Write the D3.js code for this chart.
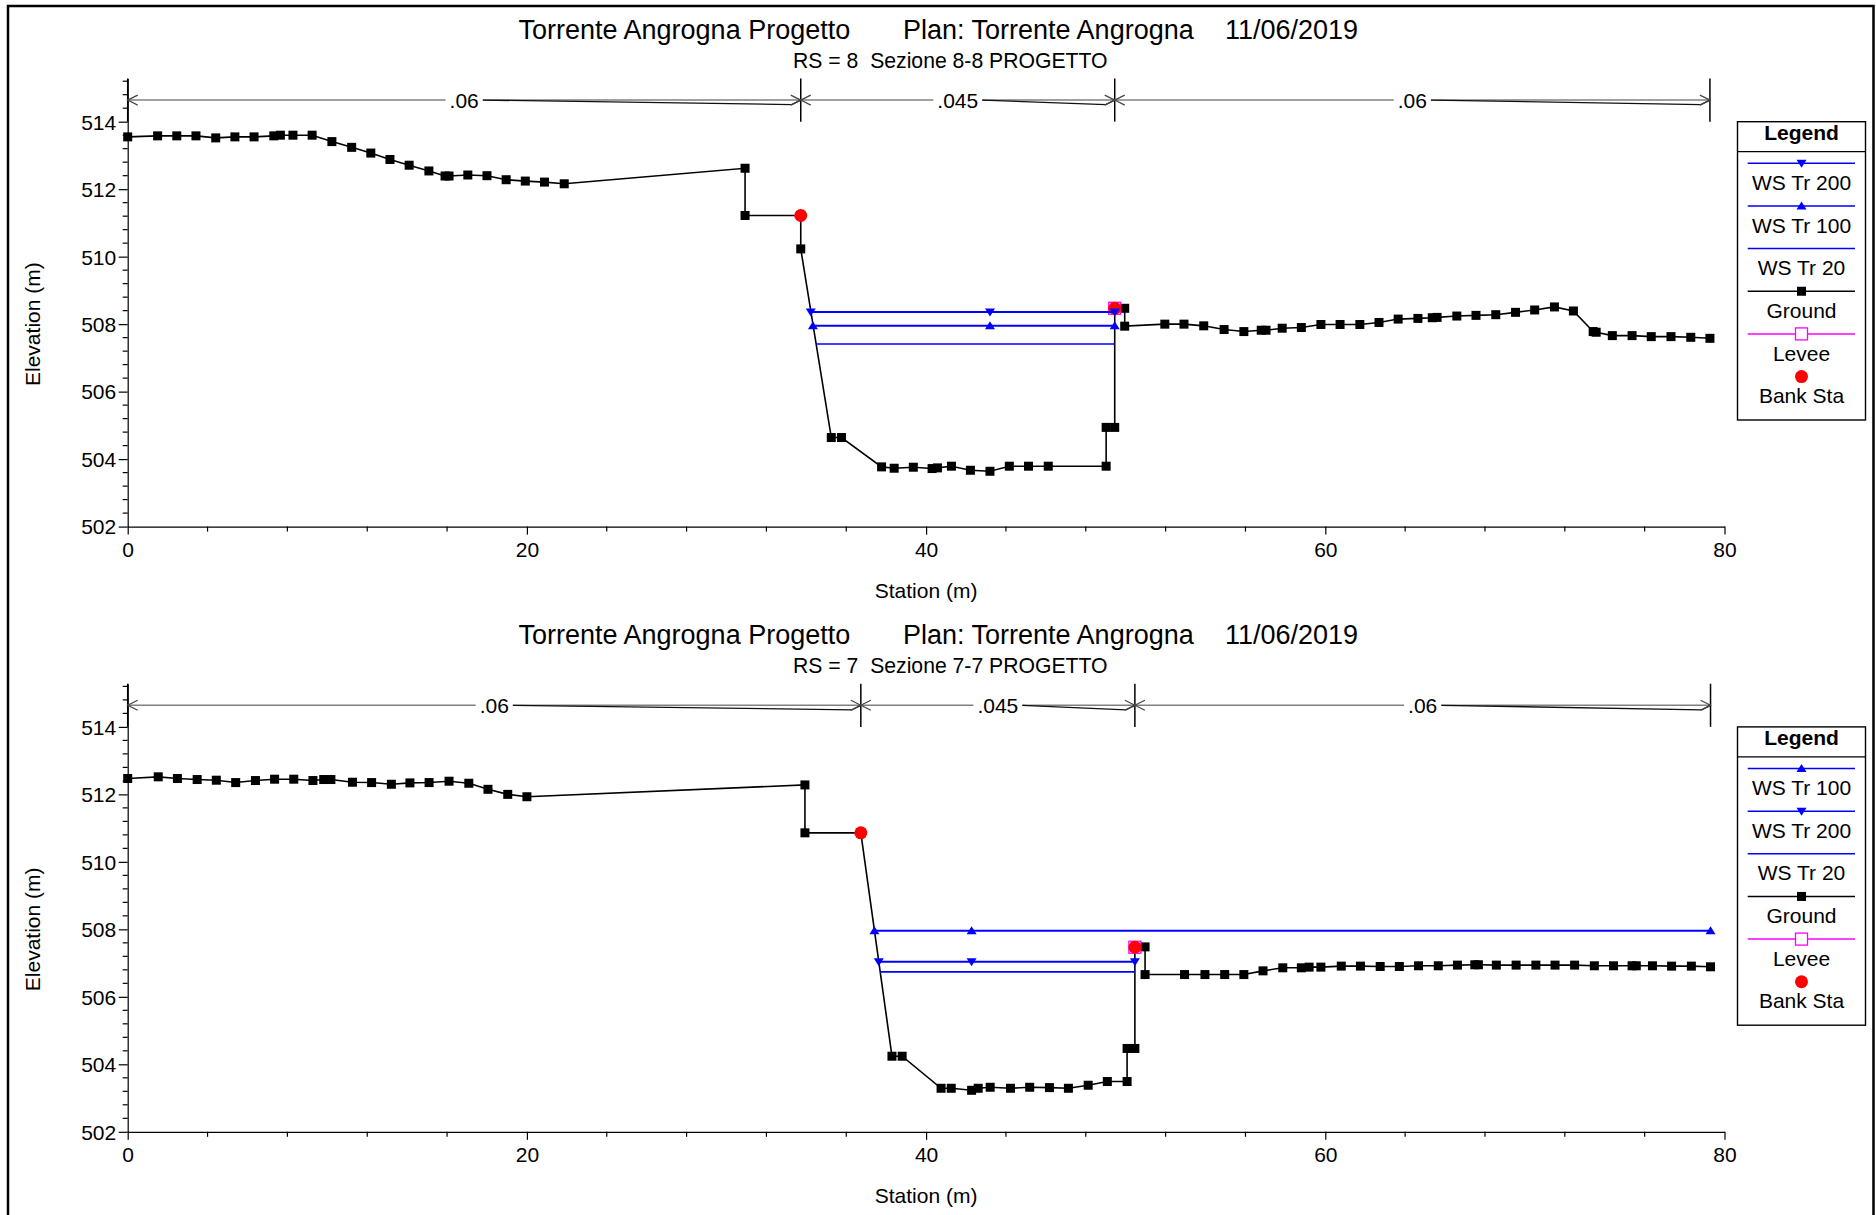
<!DOCTYPE html>
<html><head><meta charset="utf-8">
<script src="https://cdn.jsdelivr.net/npm/d3@7"></script>
<style>
body{margin:0;background:#fff;}
svg{display:block;}
text{font-family:"Liberation Sans", Arial, Helvetica, sans-serif;}
</style>
</head><body>
<svg id="chart" width="1876" height="1215"></svg>
<script>
// ---------------- DATA ----------------
const titleParts = ["Torrente Angrogna Progetto", "Plan: Torrente Angrogna", "11/06/2019"];
const subtitleA = "RS = 8  Sezione 8-8 PROGETTO";
const subtitleB = "RS = 7  Sezione 7-7 PROGETTO";
const xTicks = [0, 20, 40, 60, 80];
const yTicks = [502, 504, 506, 508, 510, 512, 514];
const xTitle = "Station (m)";
const yTitle = "Elevation (m)";

// Section RS = 8 (top)
const groundStA = [0,1.5,2.46,3.42,4.41,5.37,6.33,7.32,7.65,8.28,9.24,10.23,11.22,12.18,13.14,14.1,15.09,15.9,16.1,17.04,18.0,18.96,19.92,20.88,21.87,30.93,30.93,33.72,33.72,35.25,35.76,37.77,38.4,39.36,40.3,40.57,41.27,42.22,43.2,44.17,45.13,46.12,49.02,49.02,49.45,49.45,49.95,49.95,51.96,52.92,53.91,54.93,55.92,56.79,57.03,57.84,58.8,59.78,60.74,61.73,62.69,63.65,64.64,65.36,65.6,66.59,67.55,68.54,69.53,70.49,71.48,72.43,73.42,73.57,74.38,75.37,76.33,77.32,78.31,79.27];
const groundElA = [513.55,513.58,513.58,513.58,513.52,513.55,513.55,513.58,513.6,513.6,513.6,513.41,513.24,513.07,512.88,512.71,512.54,512.39,512.39,512.42,512.4,512.28,512.24,512.21,512.16,512.62,511.22,511.22,510.23,504.64,504.64,503.77,503.73,503.76,503.72,503.74,503.79,503.67,503.64,503.79,503.79,503.79,503.79,504.94,504.94,508.47,508.47,507.94,508.0,508.0,507.95,507.84,507.78,507.82,507.82,507.88,507.9,507.99,507.99,507.99,508.05,508.15,508.17,508.19,508.2,508.24,508.26,508.28,508.35,508.42,508.51,508.39,507.78,507.76,507.66,507.66,507.63,507.63,507.61,507.58];
const ws200StA = [34.22, 43.2, 49.45]; const ws200ElA = 508.36;
const ws100StA = [34.33, 43.2, 49.45]; const ws100ElA = 507.95;
const ws20StA  = [34.48, 49.45];       const ws20ElA  = 507.41;
const leveeA = [[49.45, 508.47]];
const bankA  = [[33.72, 511.22], [49.45, 508.47]];
const nStA   = [0, 33.72, 49.45, 79.27];
const nValA  = [".06", ".045", ".06"];
const legendA = ["WS Tr 200", "WS Tr 100", "WS Tr 20", "Ground", "Levee", "Bank Sta"];

// Section RS = 7 (bottom)
const groundStB = [0,1.53,2.49,3.48,4.44,5.41,6.4,7.36,8.32,9.28,9.82,10.18,11.26,12.22,13.21,14.14,15.1,16.1,17.09,18.05,19.04,20.0,33.93,33.93,36.73,38.29,38.8,40.75,41.26,42.28,42.61,43.21,44.23,45.19,46.18,47.13,48.12,49.08,50.07,50.07,50.46,50.46,50.97,50.97,52.95,53.97,54.96,55.92,56.88,57.87,58.8,59.19,59.78,60.8,61.76,62.75,63.71,64.67,65.66,66.62,67.49,67.67,68.57,69.56,70.55,71.51,72.49,73.48,74.44,75.37,75.58,76.39,77.35,78.34,79.3];
const groundElB = [512.47,512.52,512.47,512.44,512.42,512.35,512.41,512.45,512.45,512.41,512.44,512.44,512.36,512.35,512.3,512.34,512.35,512.39,512.33,512.15,512.0,511.93,512.28,510.86,510.86,504.24,504.24,503.29,503.29,503.23,503.29,503.32,503.29,503.32,503.31,503.29,503.38,503.49,503.49,504.47,504.47,507.47,507.48,506.66,506.66,506.66,506.66,506.66,506.77,506.86,506.86,506.88,506.88,506.91,506.91,506.9,506.9,506.92,506.92,506.94,506.95,506.95,506.94,506.94,506.94,506.94,506.94,506.92,506.92,506.92,506.92,506.92,506.91,506.91,506.89];
const ws100StB = [37.41, 42.28, 79.3]; const ws100ElB = 507.96;
const ws200StB = [37.63, 42.28, 50.46]; const ws200ElB = 507.04;
const ws20StB  = [37.7, 50.46];        const ws20ElB  = 506.74;
const leveeB = [[50.46, 507.47]];
const bankB  = [[36.73, 510.86], [50.46, 507.47]];
const nStB   = [0, 36.73, 50.46, 79.3];
const nValB  = [".06", ".045", ".06"];
const legendB = ["WS Tr 100", "WS Tr 200", "WS Tr 20", "Ground", "Levee", "Bank Sta"];

// ---------------- DRAW ----------------
const svg = d3.select("#chart");
const BLUE = "#0000ff", MAG = "#ff00ff", RED = "#ff0000";

// outer frame
svg.append("rect").attr("x", 8).attr("y", 6).attr("width", 1865.5).attr("height", 1400)
  .attr("fill", "none").attr("stroke", "#000").attr("stroke-width", 2.5);

const sectionA = {
  subtitle: subtitleA,
  ground: groundStA.map((s, i) => [s, groundElA[i]]),
  ws: {
    "WS Tr 200": {pts: ws200StA.map(s => [s, ws200ElA]), marker: "down", w: 2},
    "WS Tr 100": {pts: ws100StA.map(s => [s, ws100ElA]), marker: "up", w: 2},
    "WS Tr 20":  {pts: ws20StA.map(s => [s, ws20ElA]), marker: null, w: 1.6}
  },
  levee: leveeA, bank: bankA, nSt: nStA, nVal: nValA, legend: legendA
};
const sectionB = {
  subtitle: subtitleB,
  ground: groundStB.map((s, i) => [s, groundElB[i]]),
  ws: {
    "WS Tr 100": {pts: ws100StB.map(s => [s, ws100ElB]), marker: "up", w: 2},
    "WS Tr 200": {pts: ws200StB.map(s => [s, ws200ElB]), marker: "down", w: 2},
    "WS Tr 20":  {pts: ws20StB.map(s => [s, ws20ElB]), marker: null, w: 1.6}
  },
  levee: leveeB, bank: bankB, nSt: nStB, nVal: nValB, legend: legendB
};

function triPath(type, cx, cy) {
  if (type === "down") return `M${cx-5},${cy-3.5}L${cx+5},${cy-3.5}L${cx},${cy+4.5}Z`;
  return `M${cx-5},${cy+3.5}L${cx+5},${cy+3.5}L${cx},${cy-4.5}Z`;
}

function drawSection(sec, dy) {
  const g = svg.append("g").attr("transform", `translate(0,${dy})`);
  const x = d3.scaleLinear().domain([0, 80]).range([127.7, 1724.5]);
  const y = d3.scaleLinear().domain([502, 515.28]).range([526.6, 78.5]);

  // titles
  const t = g.append("text").attr("y", 39).attr("font-size", 27).attr("fill", "#000");
  const tx = [518.5, 903, 1225];
  titleParts.forEach((p, i) => t.append("tspan").attr("x", tx[i]).text(p));
  g.append("text").attr("x", 793).attr("y", 68).attr("font-size", 21.2).attr("fill", "#000")
    .attr("xml:space", "preserve").style("white-space", "pre").text(sec.subtitle);

  // axes
  const yAxis = d3.axisLeft(y).tickValues(yTicks).tickSize(9).tickPadding(2.5).tickSizeOuter(0).tickFormat(d3.format("d"));
  const gy = g.append("g").attr("transform", `translate(${x(0)},0)`).call(yAxis);
  const minorY = d3.range(0, 34).filter(i => i % 5 !== 0).map(i => 502 + i * 0.4);
  gy.selectAll(".minor").data(minorY).enter().append("line").attr("class", "minor")
    .attr("x1", -5).attr("x2", 0).attr("y1", d => y(d)).attr("y2", d => y(d));
  const xAxis = d3.axisBottom(x).tickValues(xTicks).tickSize(8).tickPadding(7).tickSizeOuter(0);
  const gx = g.append("g").attr("transform", `translate(0,${y(502)})`).call(xAxis);
  const minorX = d3.range(0, 81, 4).filter(v => v % 20 !== 0);
  gx.selectAll(".minor").data(minorX).enter().append("line").attr("class", "minor")
    .attr("x1", d => x(d)).attr("x2", d => x(d)).attr("y1", 0).attr("y2", 5);
  [gx, gy].forEach(a => {
    a.attr("font-family", null).attr("font-size", null);
    a.selectAll("path, line").attr("stroke", "#000").attr("stroke-width", 1.2);
    a.selectAll("text").attr("font-size", 21).attr("fill", "#000");
  });
  gy.selectAll(".tick text").attr("dy", "0.35em");

  g.append("text").attr("x", (x(0) + x(80)) / 2).attr("y", 598).attr("text-anchor", "middle")
    .attr("font-size", 21).text(xTitle);
  g.append("text").attr("transform", `translate(40,${(y(502) + y(514)) / 2}) rotate(-90)`)
    .attr("text-anchor", "middle").attr("font-size", 21).text(yTitle);

  // Manning's n bands
  const ym = y(514.64);
  sec.nSt.forEach(s => {
    g.append("line").attr("x1", x(s)).attr("x2", x(s)).attr("y1", y(515.28)).attr("y2", y(514.0))
      .attr("stroke", "#000").attr("stroke-width", 1.5);
  });
  sec.nVal.forEach((lab, i) => {
    const x0 = x(sec.nSt[i]), x1 = x(sec.nSt[i + 1]), xc = (x0 + x1) / 2;
    const tt = g.append("text").attr("x", xc).attr("y", ym + 8).attr("text-anchor", "middle")
      .attr("font-size", 21).text(lab);
    const w = tt.node().getComputedTextLength();
    const lL = xc - w / 2 - 4, lR = xc + w / 2 + 4;
    g.append("line").attr("x1", x0).attr("x2", lL).attr("y1", ym).attr("y2", ym)
      .attr("stroke", "#808080").attr("stroke-width", 1.5);
    g.append("line").attr("x1", lR).attr("x2", x1).attr("y1", ym).attr("y2", ym)
      .attr("stroke", "#808080").attr("stroke-width", 1.5);
    g.append("path").attr("d", `M${lR},${ym}L${x1 - 9},${ym + 4.5}L${x1},${ym}`)
      .attr("fill", "none").attr("stroke", "#111").attr("stroke-width", 1.3);
    g.append("path").attr("d", `M${x0 + 10},${ym - 5}L${x0},${ym}L${x0 + 10},${ym + 5}`)
      .attr("fill", "none").attr("stroke", "#444").attr("stroke-width", 1.2);
    g.append("path").attr("d", `M${x1 - 10},${ym - 5}L${x1},${ym}L${x1 - 10},${ym + 5}`)
      .attr("fill", "none").attr("stroke", "#444").attr("stroke-width", 1.2);
  });

  // ground
  const line = d3.line().x(d => x(d[0])).y(d => y(d[1]));
  g.append("path").attr("d", line(sec.ground)).attr("fill", "none").attr("stroke", "#000").attr("stroke-width", 1.6);
  g.selectAll(".gpt").data(sec.ground).enter().append("rect").attr("class", "gpt")
    .attr("x", d => x(d[0]) - 4.5).attr("y", d => y(d[1]) - 4.5).attr("width", 9).attr("height", 9).attr("fill", "#000");

  // levee & bank
  g.selectAll(".lev").data(sec.levee).enter().append("rect").attr("class", "lev")
    .attr("x", d => x(d[0]) - 6).attr("y", d => y(d[1]) - 6).attr("width", 12).attr("height", 12)
    .attr("fill", "none").attr("stroke", MAG).attr("stroke-width", 1.3);
  g.selectAll(".bank").data(sec.bank).enter().append("circle").attr("class", "bank")
    .attr("cx", d => x(d[0])).attr("cy", d => y(d[1])).attr("r", 6.5).attr("fill", RED);

  // water surfaces
  Object.keys(sec.ws).forEach(k => {
    const s = sec.ws[k];
    g.append("path").attr("d", line(s.pts)).attr("fill", "none").attr("stroke", BLUE).attr("stroke-width", s.w);
    if (s.marker) {
      s.pts.forEach(p => g.append("path").attr("d", triPath(s.marker, x(p[0]), y(p[1]))).attr("fill", BLUE));
    }
  });

  // legend
  const lg = g.append("g");
  lg.append("rect").attr("x", 1737.5).attr("y", 121.7).attr("width", 128).attr("height", 298.3)
    .attr("fill", "#fff").attr("stroke", "#000").attr("stroke-width", 1.4);
  lg.append("line").attr("x1", 1737.5).attr("x2", 1865.5).attr("y1", 151.7).attr("y2", 151.7)
    .attr("stroke", "#000").attr("stroke-width", 1.2);
  const lcx = 1801.5;
  lg.append("text").attr("x", lcx).attr("y", 140).attr("text-anchor", "middle").attr("font-size", 21)
    .attr("font-weight", "bold").text("Legend");
  sec.legend.forEach((name, i) => {
    const ly = 163.3 + i * 42.65;
    if (name.startsWith("WS")) {
      const s = sec.ws[name];
      lg.append("line").attr("x1", 1747.7).attr("x2", 1855).attr("y1", ly).attr("y2", ly)
        .attr("stroke", BLUE).attr("stroke-width", 1.5);
      if (s.marker) lg.append("path").attr("d", triPath(s.marker, lcx, ly)).attr("fill", BLUE);
    } else if (name === "Ground") {
      lg.append("line").attr("x1", 1747.7).attr("x2", 1855).attr("y1", ly).attr("y2", ly)
        .attr("stroke", "#000").attr("stroke-width", 1.5);
      lg.append("rect").attr("x", lcx - 4.5).attr("y", ly - 4.5).attr("width", 9).attr("height", 9).attr("fill", "#000");
    } else if (name === "Levee") {
      lg.append("line").attr("x1", 1747.7).attr("x2", 1855).attr("y1", ly).attr("y2", ly)
        .attr("stroke", MAG).attr("stroke-width", 1.5);
      lg.append("rect").attr("x", lcx - 6).attr("y", ly - 6).attr("width", 12).attr("height", 12)
        .attr("fill", "#fff").attr("stroke", MAG).attr("stroke-width", 1.3);
    } else {
      lg.append("circle").attr("cx", lcx).attr("cy", ly).attr("r", 6.5).attr("fill", RED);
    }
    lg.append("text").attr("x", lcx).attr("y", ly + 26.7).attr("text-anchor", "middle").attr("font-size", 21).text(name);
  });
}

drawSection(sectionA, 0);
drawSection(sectionB, 605.2);
</script>
</body></html>
